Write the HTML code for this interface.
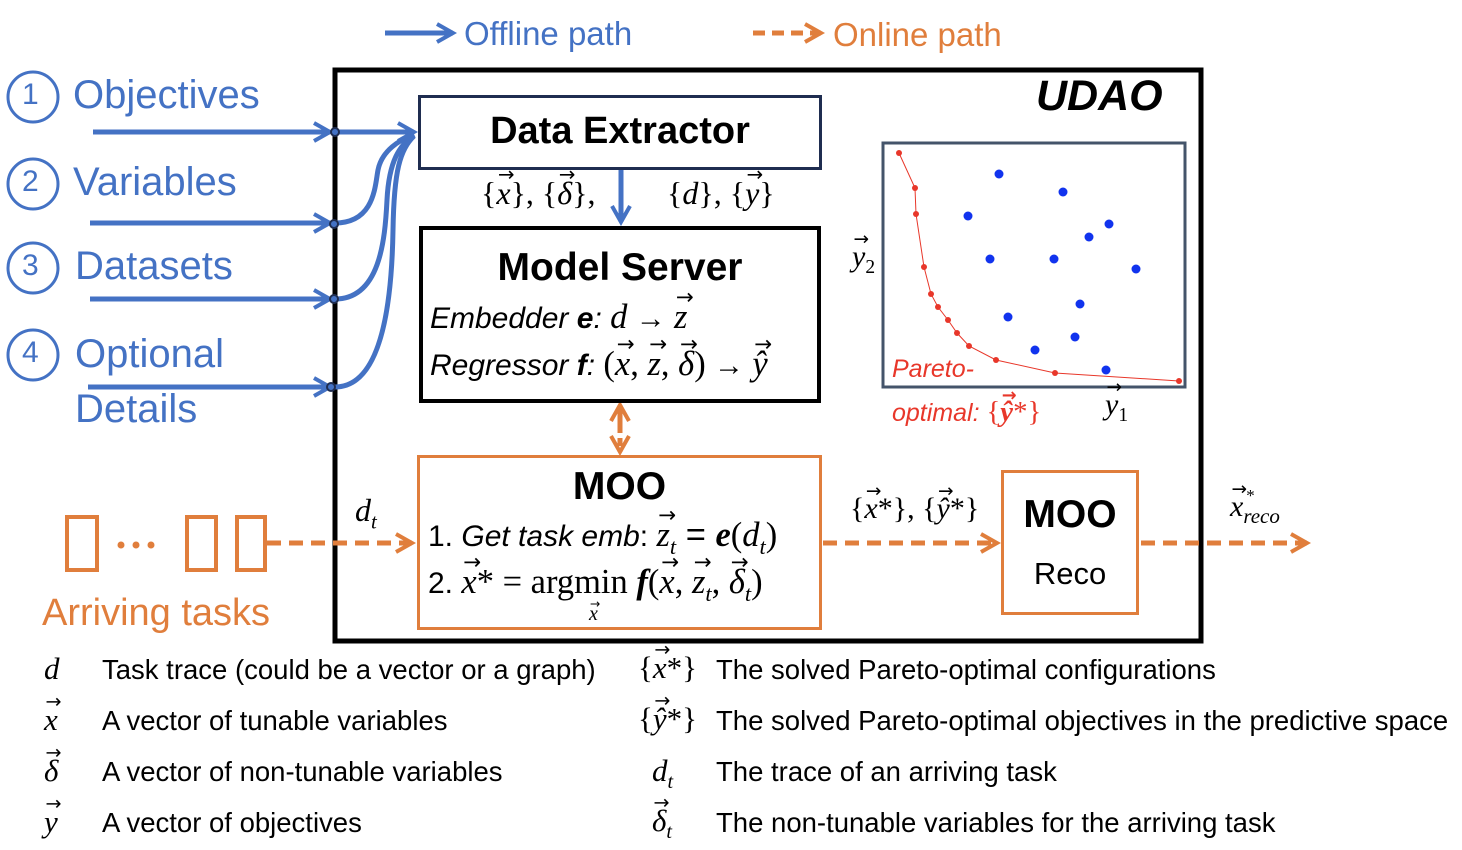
<!DOCTYPE html>
<html><head><meta charset="utf-8"><style>
body{margin:0;width:1462px;height:850px;background:#fff;position:relative;overflow:hidden;font-family:"Liberation Sans","DejaVu Sans",sans-serif}
.t{position:absolute;white-space:nowrap}
.b{color:#4472c4}.o{color:#e07e3c}
.m{font-family:"Liberation Serif","DejaVu Serif",serif;font-style:italic}
.mm{font-size:1.15em}
.v{position:relative;display:inline-block;font-family:"Liberation Serif","DejaVu Serif",serif;font-style:italic}
.v::after{content:"\2192";position:absolute;left:0.08em;top:-0.6em;font-size:0.62em;font-style:normal;font-family:"DejaVu Sans",sans-serif}
.box{position:absolute;box-sizing:border-box}
sub{font-size:0.65em}
</style></head><body>
<svg width="1462" height="850" style="position:absolute;left:0;top:0">
<defs>
<marker id="ab2" markerWidth="22" markerHeight="22" refX="18" refY="11" orient="auto" markerUnits="userSpaceOnUse"><path d="M2,2 L18,11 L2,20" fill="none" stroke="#4472c4" stroke-width="4"/></marker>
<marker id="ao" markerWidth="22" markerHeight="22" refX="18" refY="11" orient="auto" markerUnits="userSpaceOnUse"><path d="M2,2 L18,11 L2,20" fill="none" stroke="#e07e3c" stroke-width="4"/></marker>
</defs>
<line x1="385" y1="33" x2="453" y2="33" stroke="#4472c4" stroke-width="5" marker-end="url(#ab2)"/>
<line x1="753" y1="33" x2="821" y2="33" stroke="#e07e3c" stroke-width="5" stroke-dasharray="12,7" marker-end="url(#ao)"/>
<rect x="335" y="70" width="866" height="571" fill="none" stroke="#000" stroke-width="5"/>
<g stroke="#4472c4" stroke-width="5" fill="none">
<line x1="93" y1="132" x2="330" y2="132" marker-end="url(#ab2)"/>
<line x1="90" y1="223" x2="330" y2="223" marker-end="url(#ab2)"/>
<line x1="90" y1="299" x2="330" y2="299" marker-end="url(#ab2)"/>
<line x1="88" y1="387" x2="330" y2="387" marker-end="url(#ab2)"/>
<line x1="335" y1="132" x2="414" y2="132" marker-end="url(#ab2)"/>
<path d="M335,223 C375,223 375,185 378,170 C382,150 400,140 414,134"/>
<path d="M335,299 C380,299 385,240 387,200 C389,160 400,145 414,135"/>
<path d="M335,387 C385,387 392,290 393,230 C394,170 400,150 414,136"/>
<line x1="621" y1="170" x2="621" y2="222" marker-end="url(#ab2)"/>
</g>
<g fill="#4472c4" stroke="#1f2d50" stroke-width="2">
<circle cx="335" cy="132" r="4"/><circle cx="334" cy="224" r="4"/><circle cx="334" cy="299" r="4"/><circle cx="331" cy="387" r="4"/>
</g>
<g fill="none" stroke="#4472c4" stroke-width="3">
<circle cx="33" cy="97" r="25"/><circle cx="33" cy="184" r="25"/><circle cx="33" cy="268" r="25"/><circle cx="33" cy="355" r="25"/>
</g>
<g stroke="#e07e3c" stroke-width="5" fill="none">
<line x1="620" y1="430" x2="620" y2="405" marker-end="url(#ao)"/>
<line x1="620" y1="425" x2="620" y2="452" stroke-dasharray="8,5" marker-end="url(#ao)"/>
<line x1="267" y1="543" x2="412" y2="543" stroke-dasharray="14,8" marker-end="url(#ao)"/>
<line x1="823" y1="543" x2="997" y2="543" stroke-dasharray="14,8" marker-end="url(#ao)"/>
<line x1="1141" y1="543" x2="1307" y2="543" stroke-dasharray="14,8" marker-end="url(#ao)"/>
<rect x="67" y="517" width="30" height="53" stroke-width="4"/>
<rect x="187" y="517" width="29" height="53" stroke-width="4"/>
<rect x="237" y="517" width="28" height="53" stroke-width="4"/>
</g>
<g fill="#e07e3c"><circle cx="121" cy="545" r="3.5"/><circle cx="136" cy="545" r="3.5"/><circle cx="151" cy="545" r="3.5"/></g>
<rect x="883" y="143" width="302" height="244" fill="none" stroke="#44546a" stroke-width="3"/>
<polyline fill="none" stroke="#e8372a" stroke-width="1" points="899,153 915,188 916,214 924,267 931,294 938,307 948,320 957,333 969,346 996,360 1055,373 1179,381"/>
<g fill="#e8372a"><circle cx="899" cy="153" r="3"/><circle cx="915" cy="188" r="3"/><circle cx="916" cy="214" r="3"/><circle cx="924" cy="267" r="3"/><circle cx="931" cy="294" r="3"/><circle cx="938" cy="307" r="3"/><circle cx="948" cy="320" r="3"/><circle cx="957" cy="333" r="3"/><circle cx="969" cy="346" r="3"/><circle cx="996" cy="360" r="3"/><circle cx="1055" cy="373" r="3"/><circle cx="1179" cy="381" r="3"/></g>
<g fill="#1133ee"><circle cx="999" cy="174" r="4.5"/><circle cx="1063" cy="192" r="4.5"/><circle cx="968" cy="216" r="4.5"/><circle cx="1109" cy="224" r="4.5"/><circle cx="1089" cy="237" r="4.5"/><circle cx="990" cy="259" r="4.5"/><circle cx="1054" cy="259" r="4.5"/><circle cx="1136" cy="269" r="4.5"/><circle cx="1080" cy="304" r="4.5"/><circle cx="1008" cy="317" r="4.5"/><circle cx="1075" cy="337" r="4.5"/><circle cx="1035" cy="350" r="4.5"/><circle cx="1106" cy="370" r="4.5"/></g>
</svg>

<div class="t b" style="left:464px;top:15px;font-size:33px">Offline path</div>
<div class="t o" style="left:833px;top:16px;font-size:33px">Online path</div>

<div class="t b" style="left:22px;top:78px;font-size:30px">1</div>
<div class="t b" style="left:22px;top:165px;font-size:30px">2</div>
<div class="t b" style="left:22px;top:249px;font-size:30px">3</div>
<div class="t b" style="left:22px;top:336px;font-size:30px">4</div>
<div class="t b" style="left:73px;top:73px;font-size:40px">Objectives</div>
<div class="t b" style="left:73px;top:160px;font-size:40px">Variables</div>
<div class="t b" style="left:75px;top:244px;font-size:40px">Datasets</div>
<div class="t b" style="left:75px;top:332px;font-size:40px">Optional</div>
<div class="t b" style="left:75px;top:387px;font-size:40px">Details</div>

<div class="t" style="left:1036px;top:72px;font-size:43px;font-weight:bold;font-style:italic">UDAO</div>

<div class="box" style="left:418px;top:95px;width:404px;height:75px;border:3px solid #1f2d50"></div>
<div class="t" style="left:418px;top:110px;width:404px;text-align:center;font-size:38px;font-weight:bold">Data Extractor</div>
<div class="t m" style="left:481px;top:175px;font-size:32px;font-style:normal">{<span class="v">x</span>}, {<span class="v">δ</span>},</div>
<div class="t m" style="left:667px;top:175px;font-size:32px;font-style:normal">{<i>d</i>}, {<span class="v">y</span>}</div>

<div class="box" style="left:419px;top:226px;width:402px;height:177px;border:4px solid #000"></div>
<div class="t" style="left:419px;top:246px;width:402px;text-align:center;font-size:39px;font-weight:bold">Model Server</div>
<div class="t" style="left:430px;top:298px;font-size:30px;font-style:italic">Embedder <b>e</b>: <span class="m mm">d</span> → <span class="v mm">z</span></div>
<div class="t" style="left:430px;top:345px;font-size:30px;font-style:italic">Regressor <b>f</b>: <span class="m mm" style="font-style:normal">(<span class="v">x</span>, <span class="v">z</span>, <span class="v">δ</span>)</span> → <span class="v mm">ŷ</span></div>

<div class="box" style="left:417px;top:455px;width:405px;height:175px;border:3px solid #e07e3c"></div>
<div class="t" style="left:417px;top:465px;width:405px;text-align:center;font-size:39px;font-weight:bold">MOO</div>
<div class="t" style="left:428px;top:516px;font-size:30px">1. <i>Get task emb</i>: <span class="mm"><span class="v">z</span><sub class="m">t</sub> = <b><i class="m">e</i></b><span class="m" style="font-style:normal">(<i>d<sub>t</sub></i>)</span></span></div>
<div class="t" style="left:428px;top:563px;font-size:30px">2. <span class="m mm" style="font-style:normal"><span class="v">x</span>* = argmin <b><i>f</i></b>(<span class="v">x</span>, <span class="v">z</span><sub><i>t</i></sub>, <span class="v">δ</span><sub><i>t</i></sub>)</span></div>
<div class="t" style="left:589px;top:603px;font-size:20px"><span class="v">x</span></div>

<div class="box" style="left:1001px;top:470px;width:138px;height:145px;border:3px solid #e07e3c"></div>
<div class="t" style="left:1001px;top:493px;width:138px;text-align:center;font-size:39px;font-weight:bold">MOO</div>
<div class="t" style="left:1001px;top:556px;width:138px;text-align:center;font-size:31px">Reco</div>

<div class="t m" style="left:355px;top:492px;font-size:32px">d<sub>t</sub></div>
<div class="t m" style="left:850px;top:492px;font-size:30px;font-style:normal">{<span class="v">x</span>*}, {<span class="v">ŷ</span>*}</div>
<div class="t" style="left:1230px;top:490px;font-size:30px"><span class="v">x</span><span class="m" style="position:relative"><sup style="font-size:17px;position:absolute;left:2px;top:-4px">*</sup><sub style="font-size:21px">reco</sub></span></div>
<div class="t" style="left:852px;top:240px;font-size:30px"><span class="v">y</span><sub class="m" style="font-style:normal">2</sub></div>
<div class="t" style="left:1105px;top:388px;font-size:30px"><span class="v">y</span><sub class="m" style="font-style:normal">1</sub></div>
<div class="t" style="left:892px;top:355px;font-size:25px;font-style:italic;color:#e8372a">Pareto-</div>
<div class="t" style="left:892px;top:396px;font-size:25px;font-style:italic;color:#e8372a">optimal: <span class="m mm" style="font-style:normal">{<b><span class="v">ŷ</span></b>*}</span></div>

<div class="t o" style="left:42px;top:592px;font-size:38px">Arriving tasks</div>

<div style="position:absolute;left:0;top:0;font-size:27.5px">
<div class="t m" style="left:44px;top:651px;font-size:31px">d</div>
<div class="t" style="left:44px;top:702px;font-size:31px"><span class="v">x</span></div>
<div class="t" style="left:44px;top:753px;font-size:31px"><span class="v">δ</span></div>
<div class="t" style="left:44px;top:804px;font-size:31px"><span class="v">y</span></div>
<div class="t" style="left:102px;top:654px">Task trace (could be a vector or a graph)</div>
<div class="t" style="left:102px;top:705px">A vector of tunable variables</div>
<div class="t" style="left:102px;top:756px">A vector of non-tunable variables</div>
<div class="t" style="left:102px;top:807px">A vector of objectives</div>
<div class="t m" style="left:638px;top:650px;font-size:31px;font-style:normal">{<span class="v">x</span>*}</div>
<div class="t m" style="left:638px;top:701px;font-size:31px;font-style:normal">{<span class="v">ŷ</span>*}</div>
<div class="t m" style="left:652px;top:753px;font-size:31px">d<sub>t</sub></div>
<div class="t" style="left:652px;top:803px;font-size:31px"><span class="v">δ</span><sub class="m">t</sub></div>
<div class="t" style="left:716px;top:654px">The solved Pareto-optimal configurations</div>
<div class="t" style="left:716px;top:705px">The solved Pareto-optimal objectives in the predictive space</div>
<div class="t" style="left:716px;top:756px">The trace of an arriving task</div>
<div class="t" style="left:716px;top:807px">The non-tunable variables for the arriving task</div>
</div>
</body></html>
